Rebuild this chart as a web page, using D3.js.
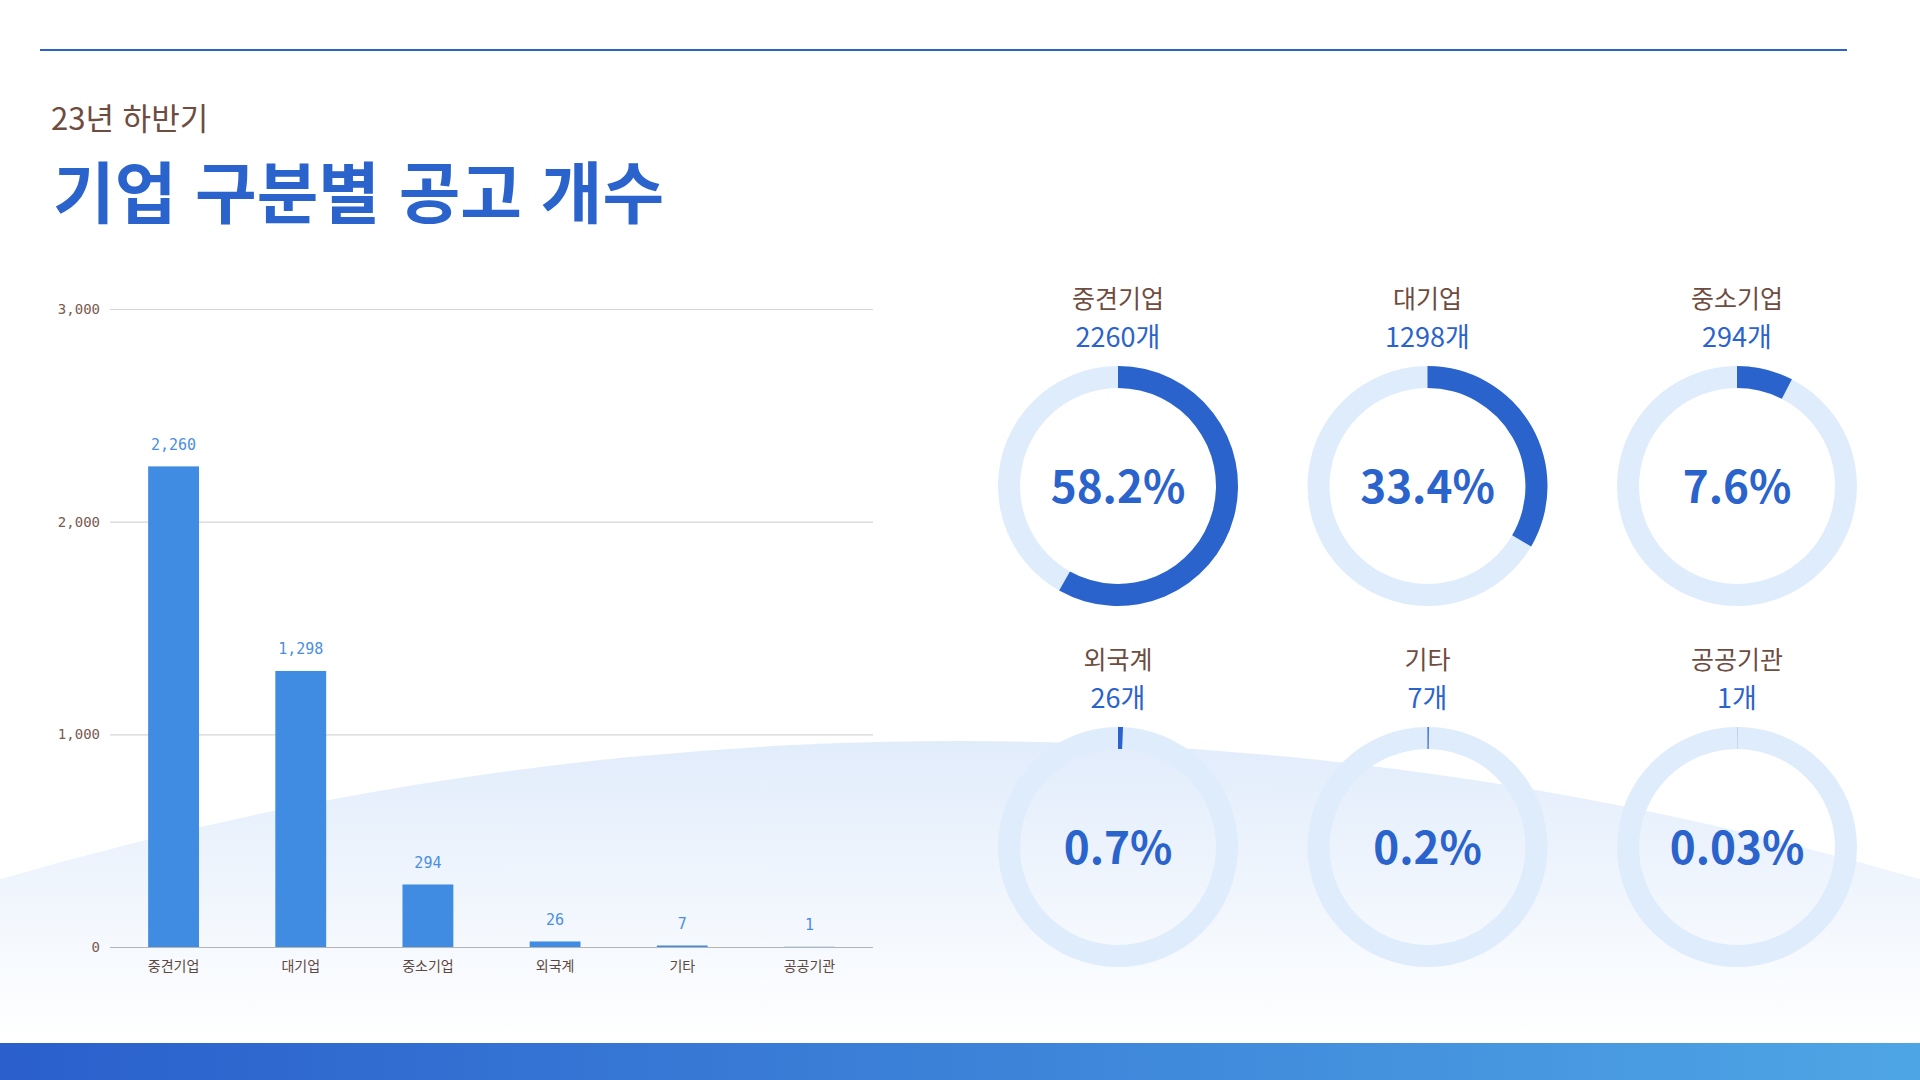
<!DOCTYPE html>
<html lang="ko">
<head>
<meta charset="utf-8">
<script src="https://cdn.jsdelivr.net/npm/d3@7"></script>
<style>
  html, body { margin: 0; padding: 0; background: #fff; }
  svg { display: block; font-family: "Noto Sans CJK KR", "Noto Sans", sans-serif; }
  .mono { font-family: "DejaVu Sans Mono", "Liberation Mono", monospace; }
</style>
</head>
<body>
<div id="chart"></div>
<script>
var width = 1920;
var height = 1080;

// data
var categories = ['중견기업', '대기업', '중소기업', '외국계', '기타', '공공기관'];
var counts = [2260, 1298, 294, 26, 7, 1];
var yTicks = [0, 1000, 2000, 3000];
var subtitle = '23년 하반기';
var title = '기업 구분별 공고 개수';

var blue = '#2b63cc',
    barBlue = '#3a88e1',
    brown = '#6e4c40',
    track = '#dfecfc';

var svg = d3.select('#chart').append('svg')
    .attr('width', width)
    .attr('height', height);

var defs = svg.append('defs');

var bgGrad = defs.append('linearGradient')
    .attr('id', 'bgGrad')
    .attr('gradientUnits', 'userSpaceOnUse')
    .attr('x1', 0).attr('y1', 740)
    .attr('x2', 0).attr('y2', 1040);
bgGrad.append('stop').attr('offset', 0).attr('stop-color', '#e1ecfb');
bgGrad.append('stop').attr('offset', 1).attr('stop-color', '#ffffff');

var footGrad = defs.append('linearGradient')
    .attr('id', 'footGrad')
    .attr('x1', 0).attr('x2', 1).attr('y1', 0).attr('y2', 0);
footGrad.append('stop').attr('offset', 0).attr('stop-color', '#2a5fcc');
footGrad.append('stop').attr('offset', 1).attr('stop-color', '#4ea5e5');

// background hill
svg.append('circle')
    .attr('cx', 960)
    .attr('cy', 741 + 3400)
    .attr('r', 3400)
    .style('fill', 'url(#bgGrad)');

// footer band
svg.append('rect')
    .attr('x', 0).attr('y', 1043)
    .attr('width', width).attr('height', height - 1043)
    .style('fill', 'url(#footGrad)');

// top rule
svg.append('line')
    .attr('x1', 40).attr('x2', 1847)
    .attr('y1', 50).attr('y2', 50)
    .style('stroke', blue)
    .style('stroke-width', 2);

// headings
svg.append('text')
    .attr('x', 51).attr('y', 130)
    .style('font-size', '31px')
    .style('fill', brown)
    .text(subtitle);

svg.append('text')
    .attr('x', 53).attr('y', 218)
    .style('font-size', '67px')
    .style('font-weight', 700)
    .style('fill', blue)
    .text(title);

// ---- bar chart ----
var x = d3.scaleBand()
    .domain(categories)
    .range([110, 873])
    .paddingInner(0.6)
    .paddingOuter(0.3);

var y = d3.scaleLinear()
    .domain([0, 3000])
    .range([947, 309]);

var yAxis = svg.append('g')
    .attr('transform', 'translate(110,0)')
    .call(d3.axisLeft(y)
        .tickValues(yTicks)
        .tickSize(-(873 - 110))
        .tickPadding(10)
        .tickFormat(d3.format(',')));

yAxis.select('.domain').remove();
yAxis.selectAll('.tick line')
    .style('stroke', function (d) { return d === 0 ? '#b4b4b4' : '#d6d6d6'; })
    .style('stroke-width', 1.2);
yAxis.selectAll('.tick text')
    .attr('class', 'mono')
    .style('font-size', '14px')
    .style('fill', '#7a5a50');

var bars = svg.append('g');

bars.selectAll('rect')
    .data(counts)
    .enter().append('rect')
    .attr('x', function (d, i) { return x(categories[i]); })
    .attr('width', x.bandwidth())
    .attr('y', function (d) { return y(d); })
    .attr('height', function (d) { return y(0) - y(d); })
    .style('fill', barBlue)
    .style('opacity', 0.97);

bars.selectAll('text')
    .data(counts)
    .enter().append('text')
    .attr('class', 'mono')
    .attr('x', function (d, i) { return x(categories[i]) + x.bandwidth() / 2; })
    .attr('y', function (d) { return y(d) - 22; })
    .attr('dy', '.35em')
    .attr('text-anchor', 'middle')
    .style('font-size', '15px')
    .style('fill', '#4a8fe0')
    .text(d3.format(','));

var xAxis = svg.append('g')
    .attr('transform', 'translate(0,' + y(0) + ')')
    .call(d3.axisBottom(x).tickSize(0).tickPadding(14));
xAxis.select('.domain').remove();
xAxis.selectAll('.tick text')
    .style('font-family', '"Noto Sans CJK KR", sans-serif')
    .style('font-size', '14px')
    .style('fill', '#5e4740');

// ---- donuts ----
var total = d3.sum(counts);
var shares = counts.map(function (c) { return c / total; });

function pctLabel(s) {
    var p = s * 100;
    return (p >= 0.1 ? p.toFixed(1) : p.toFixed(2)) + '%';
}

var col = d3.scalePoint().domain([0, 1, 2]).range([1118, 1737]);
var row = d3.scalePoint().domain([0, 1]).range([486, 847]);

var arc = d3.arc()
    .innerRadius(98)
    .outerRadius(120)
    .startAngle(0);

var donut = svg.selectAll('g.donut')
    .data(categories)
    .enter().append('g')
    .attr('class', 'donut')
    .attr('transform', function (d, i) {
        return 'translate(' + col(i % 3) + ',' + row(Math.floor(i / 3)) + ')';
    });

donut.append('path')
    .attr('d', arc.endAngle(2 * Math.PI)())
    .style('fill', track);

donut.append('path')
    .attr('d', function (d, i) { return arc.endAngle(2 * Math.PI * shares[i])(); })
    .style('fill', blue);

donut.append('text')
    .attr('y', -187)
    .attr('dy', '.35em')
    .attr('text-anchor', 'middle')
    .style('font-size', '25px')
    .style('fill', brown)
    .text(function (d) { return d; });

donut.append('text')
    .attr('y', -148)
    .attr('dy', '.35em')
    .attr('text-anchor', 'middle')
    .style('font-size', '27px')
    .style('fill', blue)
    .text(function (d, i) { return counts[i] + '개'; });

donut.append('text')
    .attr('y', 2)
    .attr('dy', '.35em')
    .attr('text-anchor', 'middle')
    .style('font-size', '44px')
    .style('font-weight', 700)
    .style('fill', blue)
    .text(function (d, i) { return pctLabel(shares[i]); });
</script>
</body>
</html>
